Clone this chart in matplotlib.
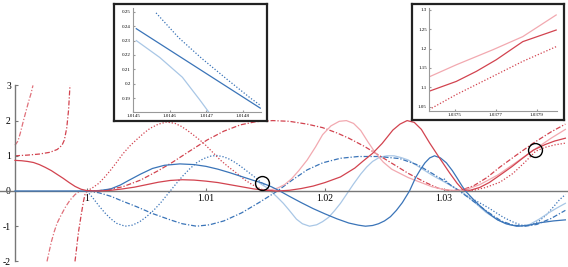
import numpy as np
import matplotlib
matplotlib.use("Agg")
import matplotlib.pyplot as plt

plt.rcParams["font.family"] = ["Liberation Serif", "DejaVu Serif"]

BLUE = "#3a74b8"
LBLUE = "#a9c7e6"
RED = "#d2434f"
PINK = "#f2a9b0"

# dark blue solid
bs_x = [0.99395, 1.0000, 1.0010, 1.0020, 1.0028, 1.0035, 1.0045, 1.0055, 1.0065, 1.0078, 1.0090, 1.0100,
        1.0110, 1.0120, 1.0130, 1.0140, 1.0147, 1.0155, 1.0162, 1.0170, 1.0180, 1.0190, 1.0200, 1.0210,
        1.0220, 1.0228, 1.0234, 1.0240, 1.0245, 1.0250, 1.0255, 1.0260, 1.0265, 1.0271, 1.0276, 1.0280,
        1.0284, 1.0288, 1.0292, 1.0297, 1.0302, 1.0307, 1.0311, 1.0315, 1.0318, 1.0325, 1.0331, 1.0338,
        1.0345, 1.0352, 1.0361, 1.0370, 1.0381, 1.0392, 1.0402]
bs_y = [0, 0.00, 0.01, 0.06, 0.17, 0.30, 0.48, 0.64, 0.73, 0.77, 0.75, 0.70,
        0.62, 0.52, 0.41, 0.30, 0.23, 0.12, 0.00, -0.15, -0.33, -0.50, -0.65, -0.79,
        -0.91, -0.97, -1.00, -0.98, -0.93, -0.85, -0.73, -0.55, -0.33, 0.00, 0.37, 0.60,
        0.80, 0.94, 1.00, 0.94, 0.80, 0.58, 0.37, 0.15, 0.00, -0.25, -0.45, -0.65,
        -0.82, -0.93, -1.00, -0.98, -0.90, -0.85, -0.82]

# blue dotted
bd_x = [1.0000, 1.0005, 1.0010, 1.0015, 1.0020, 1.0025, 1.0032, 1.0038, 1.0044, 1.0050, 1.0056, 1.0062,
        1.0068, 1.0074, 1.0080, 1.0086, 1.0092, 1.0098, 1.0104, 1.0109, 1.0115, 1.0120, 1.0125, 1.0130,
        1.0135, 1.0140, 1.0146, 1.0149]
bd_y = [0, -0.20, -0.42, -0.62, -0.79, -0.92, -1.00, -0.97, -0.88, -0.73, -0.55, -0.33,
        -0.08, 0.17, 0.41, 0.62, 0.80, 0.92, 0.99, 1.01, 0.97, 0.90, 0.80, 0.68,
        0.55, 0.42, 0.25, 0.17]
bd2_x = [1.0300, 1.0305, 1.0312, 1.0320, 1.0328, 1.0336, 1.0343, 1.0350, 1.0358, 1.0365, 1.0372, 1.0380,
         1.0386, 1.0392, 1.0397, 1.0402]
bd2_y = [0.35, 0.17, 0.02, -0.15, -0.3, -0.45, -0.6, -0.75, -0.88, -0.97, -0.98, -0.85,
         -0.68, -0.45, -0.25, -0.1]

# light blue solid
lb_x = [1.0145, 1.0147, 1.0151, 1.0155, 1.0160, 1.0165, 1.0170, 1.0176, 1.0181, 1.0187, 1.0193, 1.0198,
        1.0203, 1.0208, 1.0213, 1.0218, 1.0224, 1.0230, 1.0235, 1.0240, 1.0246, 1.0252, 1.0258, 1.0264,
        1.0270, 1.0276, 1.0282, 1.0290, 1.0298, 1.0306, 1.0316, 1.0325, 1.0335, 1.0345, 1.0355, 1.0364,
        1.0372, 1.0380, 1.0388, 1.0395, 1.0402]
lb_y = [0.23, 0.18, 0.10, -0.02, -0.18, -0.35, -0.55, -0.80, -0.93, -1.00, -0.96, -0.87,
        -0.75, -0.56, -0.35, -0.10, 0.20, 0.48, 0.68, 0.84, 0.96, 1.00, 1.00, 0.95,
        0.88, 0.75, 0.62, 0.45, 0.30, 0.15, -0.05, -0.30, -0.60, -0.82, -0.96, -1.00,
        -0.95, -0.80, -0.62, -0.48, -0.35]

# blue dash-dot
bdd_x = [1.0000, 1.0010, 1.0020, 1.0030, 1.0042, 1.0055, 1.0070, 1.0080, 1.0092, 1.0103, 1.0115, 1.0130,
         1.0145, 1.0160, 1.0172, 1.0185, 1.0198, 1.0213, 1.0228, 1.0245, 1.0263, 1.0278, 1.0290, 1.0302,
         1.0313, 1.0325, 1.0337, 1.0348, 1.0358, 1.0368, 1.0378, 1.0390, 1.0402]
bdd_y = [0, -0.05, -0.15, -0.29, -0.45, -0.64, -0.82, -0.93, -1.00, -0.96, -0.85, -0.62,
         -0.32, 0.00, 0.30, 0.60, 0.80, 0.93, 0.98, 0.98, 0.92, 0.74, 0.50, 0.25,
         0.00, -0.30, -0.60, -0.85, -0.97, -1.00, -0.95, -0.78, -0.55]

# red solid
rs_x = [0.99395, 0.9945, 0.9950, 0.9955, 0.9960, 0.9965, 0.9970, 0.9975, 0.9980, 0.9985, 0.9990, 0.9995,
        1.0000, 1.0010, 1.0020, 1.0030, 1.0040, 1.0050, 1.0060, 1.0070, 1.0080, 1.0090, 1.0100, 1.0110,
        1.0120, 1.0130, 1.0140, 1.0150, 1.0160, 1.0170, 1.0180, 1.0190, 1.0200, 1.0213, 1.0225, 1.0232,
        1.0240, 1.0248, 1.0257, 1.0263, 1.0269, 1.0275, 1.0281, 1.0288, 1.0296, 1.0305, 1.0311, 1.0316,
        1.0322, 1.0330, 1.0338, 1.0347, 1.0357, 1.0366, 1.0375, 1.0385, 1.0393, 1.0402]
rs_y = [0.87, 0.86, 0.84, 0.81, 0.75, 0.67, 0.58, 0.47, 0.36, 0.24, 0.13, 0.05,
        0.01, 0.00, 0.02, 0.06, 0.11, 0.18, 0.25, 0.30, 0.32, 0.31, 0.28, 0.24,
        0.18, 0.12, 0.06, 0.02, 0.00, 0.02, 0.07, 0.14, 0.24, 0.40, 0.65, 0.85,
        1.07, 1.35, 1.73, 1.90, 2.00, 1.95, 1.75, 1.36, 0.95, 0.50, 0.22, 0.03,
        0.02, 0.10, 0.24, 0.45, 0.69, 0.93, 1.16, 1.32, 1.42, 1.50]

# red dotted
rd_x = [1.0000, 1.0005, 1.0010, 1.0015, 1.0020, 1.0025, 1.0030, 1.0036, 1.0042, 1.0048, 1.0053, 1.0060,
        1.0067, 1.0074, 1.0079, 1.0084, 1.0091, 1.0098, 1.0105, 1.0112, 1.0119, 1.0126, 1.0132, 1.0137,
        1.0142, 1.0148, 1.0152]
rd_y = [0, 0.10, 0.22, 0.40, 0.60, 0.82, 1.05, 1.28, 1.47, 1.65, 1.78, 1.90,
        1.96, 1.92, 1.84, 1.73, 1.55, 1.36, 1.12, 0.88, 0.68, 0.50, 0.33, 0.22,
        0.12, 0.03, 0.00]
rd2_x = [1.0318, 1.0325, 1.0335, 1.0347, 1.0358, 1.0368, 1.0377, 1.0385, 1.0393, 1.0402]
rd2_y = [0.00, 0.02, 0.10, 0.25, 0.50, 0.82, 1.13, 1.24, 1.31, 1.36]

# red dash-dot
rdd_x = [1.0000, 1.0015, 1.0030, 1.0045, 1.0060, 1.0072, 1.0087, 1.0101, 1.0115, 1.0129, 1.0142, 1.0156,
         1.0170, 1.0185, 1.0198, 1.0210, 1.0220, 1.0233, 1.0246, 1.0258, 1.0270, 1.0284, 1.0295, 1.0305,
         1.0315, 1.0325, 1.0336, 1.0347, 1.0360, 1.0375, 1.0390, 1.0402]
rdd_y = [0, 0.02, 0.12, 0.31, 0.58, 0.82, 1.15, 1.45, 1.70, 1.88, 1.97, 2.00,
         1.98, 1.90, 1.80, 1.65, 1.50, 1.27, 1.00, 0.75, 0.50, 0.25, 0.08, 0.01,
         0.03, 0.15, 0.38, 0.68, 1.00, 1.36, 1.68, 1.90]

# pink solid
ps_x = [1.0148, 1.0155, 1.0160, 1.0166, 1.0172, 1.0178, 1.0185, 1.0192, 1.0198, 1.0205, 1.0212, 1.0218,
        1.0224, 1.0230, 1.0236, 1.0242, 1.0249, 1.0256, 1.0263, 1.0270, 1.0280, 1.0290, 1.0300, 1.0310,
        1.0320, 1.0330, 1.0345, 1.0360, 1.0377, 1.0390, 1.0402]
ps_y = [0.02, 0.04, 0.08, 0.18, 0.35, 0.58, 0.88, 1.25, 1.60, 1.85, 1.98, 2.00,
        1.92, 1.72, 1.40, 1.10, 0.82, 0.62, 0.50, 0.38, 0.25, 0.12, 0.04, 0.01,
        0.06, 0.18, 0.45, 0.80, 1.20, 1.50, 1.75]

# left-hand red dash-dot branches
l1_x = [0.99395, 0.9942, 0.9944, 0.99466, 0.9949, 0.9951, 0.99528, 0.99546]
l1_y = [1.30, 1.42, 1.65, 2.00, 2.30, 2.55, 2.75, 3.00]
l2_x = [0.99395, 0.9950, 0.9960, 0.99689, 0.9975, 0.9979, 0.9981, 0.9983, 0.99845, 0.99857]
l2_y = [1.00, 1.02, 1.05, 1.10, 1.18, 1.30, 1.45, 1.80, 2.30, 3.00]
l3_x = [0.99664, 0.9968, 0.9970, 0.99725, 0.99748, 0.9978, 0.9982, 0.99857, 0.9990, 0.9994]
l3_y = [-2.00, -1.75, -1.45, -1.15, -0.92, -0.70, -0.45, -0.26, -0.10, 0.00]
l4_x = [0.99899, 0.9991, 0.9992, 0.9993, 0.9994, 0.9995, 0.9996, 0.9997, 0.99983, 1.0]
l4_y = [-2.00, -1.70, -1.40, -1.13, -0.92, -0.70, -0.50, -0.30, -0.10, 0.00]

# insets
in1_bs_x = [1.014509, 1.014848]
in1_bs_y = [0.2383, 0.183]
in1_bd_x = [1.014563, 1.014625, 1.014688, 1.014755, 1.014821, 1.014848]
in1_bd_y = [0.2493, 0.232, 0.2176, 0.2035, 0.19, 0.185]
in1_lb_x = [1.014509, 1.014573, 1.014635, 1.014683, 1.014707]
in1_lb_y = [0.230, 0.2183, 0.2045, 0.1886, 0.1803]

in2_ps_x = [1.037375, 1.037508, 1.037687, 1.037833, 1.037996]
in2_ps_y = [1.1266, 1.158, 1.197, 1.231, 1.287]
in2_rs_x = [1.037375, 1.037508, 1.037606, 1.037703, 1.037833, 1.037996]
in2_rs_y = [1.0895, 1.115, 1.141, 1.171, 1.218, 1.248]
in2_rd_x = [1.037375, 1.037508, 1.037671, 1.037833, 1.037996]
in2_rd_y = [1.042, 1.081, 1.124, 1.167, 1.205]

W, H = 568, 267
fig = plt.figure(figsize=(W / 100, H / 100), dpi=100)
ax = fig.add_axes([0, 0, 1, 1])
ax.set_xlim(1 - 87 / 11900, 1 + 481 / 11900)
ax.set_ylim(-76 / 35.2, 191 / 35.2)

lw = 0.9
DOT = (0, (1, 1.5))
DASHDOT = (0, (4, 1.5, 1, 1.5))
ax.plot(bs_x, bs_y, color=BLUE, lw=lw, zorder=3)
ax.plot(bd_x, bd_y, color=BLUE, lw=lw, ls=DOT)
ax.plot(bd2_x, bd2_y, color=BLUE, lw=lw, ls=DOT)
ax.plot(lb_x, lb_y, color=LBLUE, lw=lw)
ax.plot(bdd_x, bdd_y, color=BLUE, lw=lw, ls=DASHDOT)
ax.plot(rs_x, rs_y, color=RED, lw=lw, zorder=3)
ax.plot(rd_x, rd_y, color=RED, lw=lw, ls=DOT)
ax.plot(rd2_x, rd2_y, color=RED, lw=lw, ls=DOT)
ax.plot(rdd_x, rdd_y, color=RED, lw=lw, ls=DASHDOT)
ax.plot(ps_x, ps_y, color=PINK, lw=lw)
for xs, ys, c in [(l1_x, l1_y, "#e0707a"), (l2_x, l2_y, RED), (l3_x, l3_y, "#e0707a"), (l4_x, l4_y, RED)]:
    ax.plot(xs, ys, color=c, lw=lw, ls=DASHDOT)

# circles
for cx, cy in [(1.0147, 0.23), (1.03765, 1.17)]:
    ax.plot([cx], [cy], marker="o", ms=10, mfc="none", mec="black", mew=1.0, zorder=5)

for s in ["top", "right"]:
    ax.spines[s].set_visible(False)
ax.spines["left"].set_position(("data", 1 - 72 / 11900))
ax.spines["left"].set_bounds(-2, 3)
ax.spines["bottom"].set_position(("data", 0))
for s in ["left", "bottom"]:
    ax.spines[s].set_color("#777777")
    ax.spines[s].set_linewidth(1.0)
ax.set_yticks([-2, -1, 0, 1, 2, 3])
ax.set_yticklabels(["-2", "-1", "0", "1", "2", "3"])
ax.set_xticks([1.0, 1.01, 1.02, 1.03])
ax.set_xticklabels(["1", "1.01", "1.02", "1.03"])
ax.tick_params(axis="y", direction="in", length=2.5, color="#777777", labelsize=7, pad=3)
ax.tick_params(axis="x", direction="in", length=2.5, color="#777777", labelsize=7, pad=2)
ax.patch.set_alpha(0)


def inset(box, inner, xlim, ylim, xticks, xlabels, yticks, ylabels):
    bx = fig.add_axes([box[0] / W, 1 - box[3] / H, (box[2] - box[0]) / W, (box[3] - box[1]) / H])
    bx.set_xticks([])
    bx.set_yticks([])
    for s in bx.spines.values():
        s.set_linewidth(1.6)
        s.set_color("#222222")
    a = fig.add_axes([inner[0] / W, 1 - inner[3] / H, (inner[2] - inner[0]) / W, (inner[3] - inner[1]) / H])
    a.set_xlim(*xlim)
    a.set_ylim(*ylim)
    a.patch.set_alpha(0)
    for s in ["top", "right"]:
        a.spines[s].set_visible(False)
    for s in ["left", "bottom"]:
        a.spines[s].set_color("#999999")
        a.spines[s].set_linewidth(0.8)
    a.set_xticks(xticks)
    a.set_xticklabels(xlabels)
    a.set_yticks(yticks)
    a.set_yticklabels(ylabels)
    a.tick_params(direction="in", length=1.5, color="#999999", labelsize=3.6, pad=1.5)
    return a


a1 = inset((114, 4, 267, 121), (133, 8, 261, 112), (1.01451, 1.014850), (0.1803, 0.2527),
           [1.0145, 1.0146, 1.0147, 1.0148], ["1.0145", "1.0146", "1.0147", "1.0148"],
           [0.19, 0.2, 0.21, 0.22, 0.23, 0.24, 0.25],
           ["0.19", "0.2", "0.21", "0.22", "0.23", "0.24", "0.25"])
a1.plot(in1_bs_x, in1_bs_y, color=BLUE, lw=lw)
a1.plot(in1_bd_x, in1_bd_y, color=BLUE, lw=lw, ls=DOT)
a1.plot(in1_lb_x, in1_lb_y, color=LBLUE, lw=lw)

a2 = inset((412, 4, 564, 120), (429, 8, 557, 111), (1.037375, 1.0380), (1.0385, 1.305),
           [1.0375, 1.0377, 1.0379], ["1.0375", "1.0377", "1.0379"],
           [1.05, 1.1, 1.15, 1.2, 1.25, 1.3], ["1.05", "1.1", "1.15", "1.2", "1.25", "1.3"])
a2.plot(in2_ps_x, in2_ps_y, color=PINK, lw=lw)
a2.plot(in2_rs_x, in2_rs_y, color=RED, lw=lw)
a2.plot(in2_rd_x, in2_rd_y, color=RED, lw=lw, ls=DOT)

fig.savefig("out.png", dpi=100)
